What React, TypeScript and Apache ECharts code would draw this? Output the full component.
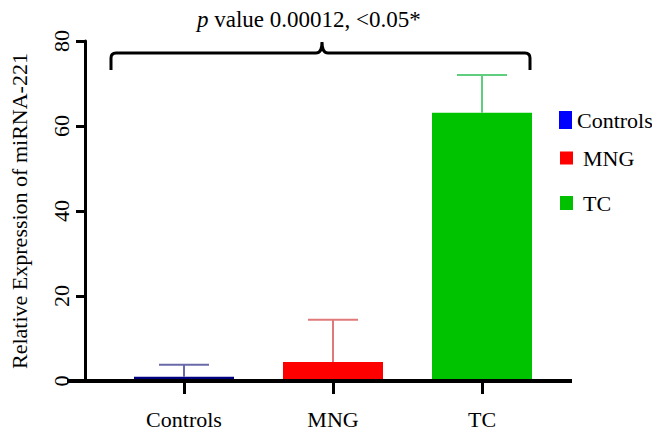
import React, { useEffect, useRef } from "react";
import * as echarts from "echarts";

const categories = ["Controls", "MNG", "TC"];
const means = [1.0, 4.5, 63.1];
const upperErrors = [3.8, 14.4, 72.0];
const yMin = 0;
const yMax = 80;
const yInterval = 20;
const pValueText = "{i|p} value 0.00012, <0.05*";

const barColors = ["#000080", "#ff0000", "#00c300"];
const legendColors = ["#0000ff", "#ff0000", "#00c000"];
const errorColors = ["#6a6aaa", "#e07a7a", "#5fcf7f"];

const FONT = "Liberation Serif";

echarts.graphic.registerShape(
  "brace",
  echarts.graphic.extendPath(
    "M111 70 L111 58 Q111 53 116 53 L316 53 Q322 53 322 42 Q322 53 328 53 L525 53 Q530 53 530 58 L530 70",
    {}
  )
);

export default function App() {
  const ref = useRef<HTMLDivElement>(null);

  useEffect(() => {
    if (!ref.current) return;
    const chart = echarts.init(ref.current, undefined, { renderer: "svg" });

    const barSeries = categories.map((name, i) => ({
      name,
      type: "bar",
      barWidth: 100,
      barGap: "-100%",
      z: 2,
      itemStyle: { color: barColors[i] },
      data: categories.map((_, j) => (j === i ? means[i] : "-")),
    }));

    const legendTops = [109, 147, 192];
    const legendLefts = [559, 560, 560];
    const legendTextPad = [0, 5, 5];
    const legendIconH = [18, 13, 14];

    const option: any = {
      animation: false,
      backgroundColor: "#ffffff",
      textStyle: { fontFamily: FONT },
      title: {
        text: pValueText,
        left: 197,
        top: 8,
        padding: 0,
        textStyle: {
          fontFamily: FONT,
          fontSize: 23,
          fontWeight: "normal",
          color: "#000",
          rich: {
            i: { fontFamily: FONT, fontSize: 23, fontStyle: "italic", color: "#000" },
          },
        },
      },
      legend: categories.map((name, i) => ({
        data: [{ name, itemStyle: { color: legendColors[i] } }],
        orient: "vertical",
        left: legendLefts[i],
        top: legendTops[i],
        padding: 0,
        icon: "rect",
        itemWidth: 13,
        itemHeight: legendIconH[i],
        selectedMode: false,
        textStyle: {
          fontFamily: FONT,
          fontSize: 22,
          color: "#000",
          padding: [0, 0, 0, legendTextPad[i]],
        },
      })),
      grid: { left: 103.5, right: 95.5, top: 41, bottom: 51 },
      xAxis: {
        type: "category",
        data: categories,
        boundaryGap: true,
        axisLine: { show: false },
        axisTick: {
          show: true,
          alignWithLabel: true,
          length: 13,
          lineStyle: { color: "#000", width: 3 },
        },
        axisLabel: {
          margin: 27,
          fontFamily: FONT,
          fontSize: 22,
          color: "#000",
        },
        splitLine: { show: false },
      },
      yAxis: {
        type: "value",
        min: yMin,
        max: yMax,
        interval: yInterval,
        offset: 24.5,
        name: "Relative Expression of miRNA-221",
        nameLocation: "middle",
        nameGap: 55,
        nameRotate: 90,
        nameTextStyle: { fontFamily: FONT, fontSize: 22, color: "#000" },
        axisLine: { show: true, lineStyle: { color: "#000", width: 3 } },
        axisTick: { show: true, length: 9, lineStyle: { color: "#000", width: 3 } },
        axisLabel: {
          rotate: 90,
          margin: 13,
          fontFamily: FONT,
          fontSize: 22,
          color: "#000",
        },
        splitLine: { show: false },
      },
      graphic: [
        {
          type: "line",
          shape: { x1: 67, y1: 381, x2: 572, y2: 381 },
          style: { stroke: "#000", lineWidth: 4 },
          z: 100,
        },
        {
          type: "brace",
          x: 0,
          y: 0,
          scaleX: 1,
          scaleY: 1,
          style: { fill: "none", stroke: "#000", lineWidth: 3 },
          z: 100,
        },
      ],
      series: [
        ...barSeries,
        {
          name: "error",
          type: "custom",
          z: 3,
          encode: { x: 0, y: [1, 2] },
          data: upperErrors.map((u, i) => [i, means[i], u]),
          renderItem: (params: any, api: any) => {
            const base = api.coord([api.value(0), api.value(1)]);
            const top = api.coord([api.value(0), api.value(2)]);
            const color = errorColors[params.dataIndex];
            const style = { stroke: color, lineWidth: 2 };
            return {
              type: "group",
              children: [
                {
                  type: "line",
                  shape: { x1: base[0], y1: base[1], x2: base[0], y2: top[1] },
                  style,
                },
                {
                  type: "line",
                  shape: { x1: top[0] - 25, y1: top[1], x2: top[0] + 25, y2: top[1] },
                  style,
                },
              ],
            };
          },
        },
      ],
    };

    chart.setOption(option);
    return () => chart.dispose();
  }, []);

  return (
    <div
      ref={ref}
      style={{ position: "absolute", left: 0, top: 0, width: 652, height: 432 }}
    />
  );
}
